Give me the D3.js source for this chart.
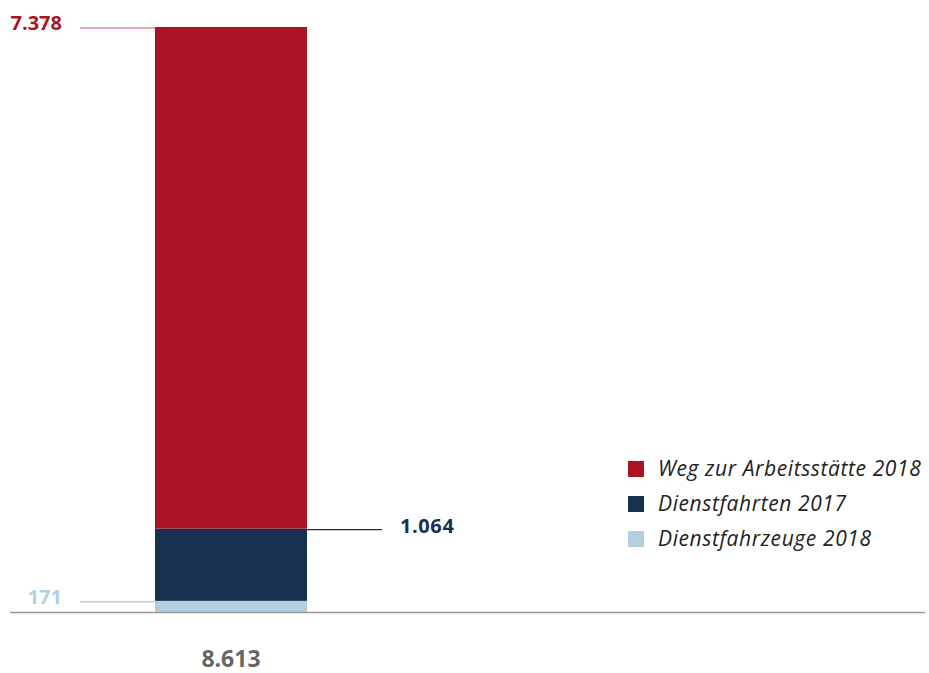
<!DOCTYPE html>
<html><head><meta charset="utf-8">
<script src="https://cdn.jsdelivr.net/npm/d3@7"></script>
<style>body{margin:0;background:#fff}svg{display:block}</style>
</head><body><div id="c"></div>
<script>
const series = ["Dienstfahrzeuge 2018", "Dienstfahrten 2017", "Weg zur Arbeitsstätte 2018"];
const values = [171, 1064, 7378];
const valueLabels = ["171", "1.064", "7.378"];
const totalLabel = "8.613";
const colors = ["#b3d0e1", "#17304f", "#ac1322"];
const labelColors = ["#b3d0e1", "#1a3050", "#ac1322"];
const leaderColors = ["#a9c8da", "#1a3050", "#c9555f"];
const legendOrder = [2, 1, 0];

const W = 929, H = 673;
const svg = d3.select("#c").append("svg").attr("width", W).attr("height", H);
const total = d3.sum(values);
const y = d3.scaleLinear().domain([0, total]).range([612.5, 27]);
const x = d3.scaleBand().domain(["all"]).range([155, 307]).padding(0);

let cum = 0;
const stacks = values.map((v, i) => { const s = {i, y0: cum, y1: cum + v}; cum += v; return s; });

svg.selectAll("rect.seg").data(stacks).join("rect")
  .attr("x", x("all")).attr("width", x.bandwidth())
  .attr("y", d => y(d.y1)).attr("height", d => y(d.y0) - y(d.y1))
  .attr("fill", d => colors[d.i]);

// baseline
svg.append("line").attr("x1", 10).attr("x2", 925).attr("y1", 612.5).attr("y2", 612.5)
  .attr("stroke", "#999").attr("stroke-width", 1.5);

const font = "'Open Sans', sans-serif";
const lab = [
  {i: 0, side: "left", ly: y(stacks[0].y1) + 1},
  {i: 1, side: "right", ly: y(stacks[1].y1) + 1},
  {i: 2, side: "left", ly: y(stacks[2].y1) + 1}
];
lab.forEach(d => {
  const g = svg.append("g");
  if (d.side === "left") {
    g.append("line").attr("x1", 80).attr("x2", 155).attr("y1", d.ly).attr("y2", d.ly)
      .attr("stroke", leaderColors[d.i]).attr("stroke-width", 1.2);
    g.append("text").attr("x", 62).attr("y", d.ly + 2).attr("text-anchor", "end")
      .attr("font-family", font).attr("font-weight", 700).attr("font-size", 20)
      .attr("fill", labelColors[d.i]).text(valueLabels[d.i]);
  } else {
    g.append("line").attr("x1", 307).attr("x2", 382).attr("y1", d.ly).attr("y2", d.ly)
      .attr("stroke", leaderColors[d.i]).attr("stroke-width", 1.2);
    g.append("text").attr("x", 400).attr("y", d.ly + 3).attr("text-anchor", "start")
      .attr("font-family", font).attr("font-weight", 700).attr("font-size", 20)
      .attr("letter-spacing", 0.6)
      .attr("fill", labelColors[d.i]).text(valueLabels[d.i]);
  }
});

svg.append("text").attr("x", x("all") + x.bandwidth() / 2).attr("y", 667).attr("text-anchor", "middle")
  .attr("font-family", font).attr("font-weight", 700).attr("font-size", 23)
  .attr("fill", "#666").text(totalLabel);

// legend
const lg = svg.append("g").attr("transform", "translate(628,461)");
legendOrder.forEach((si, k) => {
  const row = lg.append("g").attr("transform", `translate(0,${k * 35})`);
  row.append("rect").attr("width", 16).attr("height", 16).attr("fill", colors[si]);
  row.append("text").attr("x", 30).attr("y", 15).attr("font-family", font)
    .attr("font-style", "italic").attr("font-size", 21).attr("letter-spacing", 0.6)
    .attr("fill", "#222").text(series[si]);
});
</script></body></html>
